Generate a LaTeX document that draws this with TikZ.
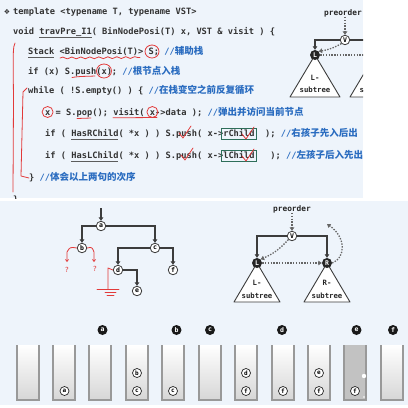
\documentclass[tikz,border=0pt]{standalone}
\usepackage{fontspec}
\usetikzlibrary{arrows.meta,decorations.pathmorphing}
\newfontfamily\codefont{DejaVu Sans Mono}
\newfontfamily\cjk{Noto Sans CJK SC}
\newfontfamily\dejavu{DejaVu Sans}
\definecolor{panel}{HTML}{EEF4FB}
\definecolor{codecol}{HTML}{333333}
\definecolor{cmt}{HTML}{2A6CC0}
\definecolor{ink}{HTML}{E23A3A}
\definecolor{boxg}{HTML}{2E6E5A}
\definecolor{treeline}{HTML}{3C3C3C}
\newcommand{\cmtx}[1]{{\color{cmt}//{\cjk\bfseries\fontsize{9.5}{10}\selectfont #1}}}
\begin{document}
\begin{tikzpicture}[x=1pt,y=-1pt,
  code/.style={anchor=base west, inner sep=0pt, text=codecol, font=\codefont\bfseries\fontsize{8.7}{10}\selectfont},
  vnode/.style={circle, draw=treeline, fill=white, line width=0.8pt, inner sep=0pt, minimum size=9.5pt, font=\codefont\bfseries\fontsize{6.5}{6.5}\selectfont},
  dnode/.style={circle, fill=black!85, text=white, inner sep=0pt, minimum size=10pt, font=\codefont\bfseries\fontsize{6.5}{6.5}\selectfont},
  lbl/.style={circle, fill=black!90, text=white, inner sep=0pt, minimum size=10pt, font=\codefont\bfseries\fontsize{6.5}{6.5}\selectfont},
  snode/.style={circle, draw=black!85, fill=white, line width=0.7pt, inner sep=0pt, minimum size=9pt, font=\codefont\bfseries\fontsize{6}{6}\selectfont},
  tline/.style={draw=treeline, line width=1.6pt, -{Triangle[length=3.5pt,width=4.5pt]}},
  dotl/.style={draw=black!60, line width=1.3pt, dash pattern=on 1.4pt off 1.4pt, -{Triangle[length=3.5pt,width=4.5pt]}},
  tri/.style={draw=treeline, fill=white, line width=0.9pt, line join=round},
  tritext/.style={inner sep=0pt, font=\codefont\bfseries\fontsize{7.3}{8}\selectfont, text=black!85},
  pretext/.style={inner sep=0pt, font=\codefont\bfseries\fontsize{7.8}{8}\selectfont, text=black!85},
  redl/.style={draw=ink, line width=0.8pt, line cap=round, line join=round},
  darkul/.style={draw=codecol!80, line width=0.7pt},
  stk/.style={draw=black!40, line width=1.2pt}
]
\useasboundingbox (0,0) rectangle (408,408);
\fill[white] (0,0) rectangle (408,408);
\fill[panel] (0,0) rectangle (363,198);
\fill[panel] (0,201) rectangle (408,405);

% ---------- top panel (code) ----------
\begin{scope}
\clip (0,0) rectangle (363,198);
\node[anchor=base, inner sep=0pt, text=codecol, font=\dejavu\fontsize{7}{8}\selectfont] (dia) at (7,14.5) {❖};
\node[code] (l1) at (13,14.5) {template <typename T, typename VST>};
\node[code] (l2) at (13,34.5) {void travPre\_I1( BinNodePosi(T) x, VST \& visit ) \{};
\node[code] (l3) at (28,54.5) {Stack <BinNodePosi(T)> S; \cmtx{辅助栈}};
\node[code] (l4) at (28,74.5) {if (x) S.push(x); \cmtx{根节点入栈}};
\node[code] (l5) at (28,93.5) {while ( !S.empty() ) \{ \cmtx{在栈变空之前反复循环}};
\node[code] (l6) at (45,115.5) {x = S.pop(); visit( x->data ); \cmtx{弹出并访问当前节点}};
\node[code] (l7) at (45,136.5) {if ( HasRChild( *x ) ) S.push( x->rChild\ \ ); \cmtx{右孩子先入后出}};
\node[code] (l8) at (45,158.5) {if ( HasLChild( *x ) ) S.push( x->lChild\ \ \ ); \cmtx{左孩子后入先出}};
\node[code] (l9) at (29,180.5) {\} \cmtx{体会以上两句的次序}};
\node[code] (l10) at (13,202) {\}};

% slide underlines
\draw[darkul] (39,37.5) -- (91.5,37.5);
\draw[darkul] (28,57.5) -- (54,57.5);
\draw[darkul] (71,139.5) -- (118,139.5);
\draw[darkul] (71,161.5) -- (118,161.5);

% green boxes
\draw[boxg, line width=0.8pt] (221.5,128) rectangle (256,139);
\draw[boxg, line width=0.8pt] (221.5,150) rectangle (256,161);

% red hand annotations
\draw[redl, decorate, decoration={snake, amplitude=0.9pt, segment length=9pt}] (60,58) -- (140,57.5);
\draw[redl] (152,51.5) circle[x radius=7pt, y radius=6.5pt];
\draw[redl] (72,77.5) .. controls (80,76) and (88,76.5) .. (95,76);
\draw[redl] (104,71) circle[x radius=7.5pt, y radius=7pt];
\draw[redl] (47.6,112) circle[radius=5.5pt];
\draw[redl] (152.4,112) circle[radius=5.5pt];
\draw[redl] (77,118.5) -- (91,118);
\draw[redl] (113,117.8) -- (157,117.5);
\draw[redl] (15,43) .. controls (13,48) .. (13.5,100) -- (13,192);
\draw[redl] (27,88) -- (23,92) -- (21,176) -- (29,178);
\draw[redl] (179,133) -- (183,138) -- (191,126);
\draw[redl] (242,134) -- (246,139) -- (254,127);
\draw[redl] (181,155) -- (185,160) -- (193,148);
\draw[redl] (242,156) -- (246,161) -- (254,149);

% small preorder diagram (clipped)
\draw[tri] (315,55) -- (290,97) -- (340,97) -- cycle;
\draw[tri] (375,55) -- (350,97) -- (400,97) -- cycle;
\node[tritext] (tl1) at (315,78) {L-};
\node[tritext] (tl2) at (315,90) {subtree};
\node[tritext] (tr1) at (375,78) {R-};
\node[tritext] (tr2) at (375,90) {subtree};
\node[pretext] (pre2) at (343,13) {preorder};
\node[vnode] (V2) at (345,40) {V};
\node[dnode] (L2) at (315,55) {L};
\coordinate (R2) at (375,55);
\draw[tline] (V2.west) -| (L2);
\draw[tline] (V2.east) -| (R2);
\draw[dotl] (pre2.south -| V2) -- (V2.north);
\draw[dotl] (V2.south west) to[bend left=10] (L2.north east);
\draw[dotl] (L2.east) -- (R2);
\end{scope}

% ---------- bottom panel: left tree ----------
\node[vnode] (a) at (101,226) {a};
\node[vnode] (b) at (82,248) {b};
\node[vnode] (c) at (155,248) {c};
\node[vnode] (d) at (118,270) {d};
\node[vnode] (f) at (173,270) {f};
\node[vnode] (e) at (137,291) {e};
\coordinate (in) at (101,208);
\draw[tline] (in) -- (a);
\draw[tline] (a.west) -| (b);
\draw[tline] (a.east) -| (c);
\draw[tline] (c.west) -| (d);
\draw[tline] (c.east) -| (f);
\draw[tline] (d.east) -| (e);

\coordinate (qL) at (67,262);
\coordinate (qR) at (94,262);
\draw[redl, -{Straight Barb[length=2pt,width=3pt]}] (b.west) .. controls (70,247) .. (67,252) -- (qL);
\draw[redl, -{Straight Barb[length=2pt,width=3pt]}] (b.east) .. controls (92,247) .. (94,252) -- (qR);
\node[text=ink, inner sep=0pt, font=\dejavu\fontsize{7}{7}\selectfont] (q1) at (67,270) {?};
\node[text=ink, inner sep=0pt, font=\dejavu\fontsize{7}{7}\selectfont] (q2) at (95,269) {?};
\draw[redl] (d.west) -- (108,268) -- (108,289);
\draw[redl] (97,289) -- (119,289);
\draw[redl] (105,292.5) -- (116,292.5);
\draw[redl] (107,295.5) -- (114,295.5);

% ---------- bottom panel: preorder diagram ----------
\draw[tri] (257,263) -- (234,302) -- (280,302) -- cycle;
\draw[tri] (327,263) -- (304,302) -- (350,302) -- cycle;
\node[tritext] (bl1) at (257,283) {L-};
\node[tritext] (bl2) at (257,295.5) {subtree};
\node[tritext] (br1) at (327,283) {R-};
\node[tritext] (br2) at (327,295.5) {subtree};
\node[pretext] (pre) at (292,209) {preorder};
\node[vnode] (V) at (292,236) {V};
\node[dnode] (L) at (257,263) {L};
\node[dnode] (R) at (327,263) {R};
\draw[tline] (V.west) -| (L);
\draw[tline] (V.east) -| (R);
\draw[dotl] (pre.south) -- (V.north);
\draw[dotl] (V.south west) to[bend left=12] (L.north east);
\draw[dotl] (L.east) -- (R.west);
\coordinate (up) at (327,224);
\draw[dotl] (R.east) .. controls (346,258) and (346,237) .. (up);

% ---------- stacks ----------
\foreach \x in {17,53,89,126,162,199,235,272,308,381}{
  \shade[top color=white, bottom color=black!16] (\x,345) rectangle (\x+22,400);
  \draw[stk] (\x,345) -- (\x,400) -- (\x+22,400) -- (\x+22,345);
}
\fill[black!24] (344,345) rectangle (366,400);
\draw[stk] (344,345) -- (344,400) -- (366,400) -- (366,345);
\fill[white] (364,376) circle[radius=2.2pt];
\fill[white] (364,397) circle[radius=0.8pt];

\node[snode] (s2a) at (64.5,391) {a};
\node[snode] (s4b) at (137,373) {b};
\node[snode] (s4c) at (137,391) {c};
\node[snode] (s5c) at (173,391) {c};
\node[snode] (s7d) at (246,373) {d};
\node[snode] (s7f) at (246,391) {f};
\node[snode] (s8f) at (283,391) {f};
\node[snode] (s9e) at (319,373) {e};
\node[snode] (s9f) at (319,391) {f};
\node[snode] (s10f) at (355,391) {f};

\node[lbl] (ta) at (102.5,330) {a};
\node[lbl] (tb) at (176.5,330) {b};
\node[lbl] (tc) at (210,330) {c};
\node[lbl] (td) at (282,330) {d};
\node[lbl] (te) at (356.5,330) {e};
\node[lbl] (tf) at (393,330) {f};
\end{tikzpicture}
\end{document}
